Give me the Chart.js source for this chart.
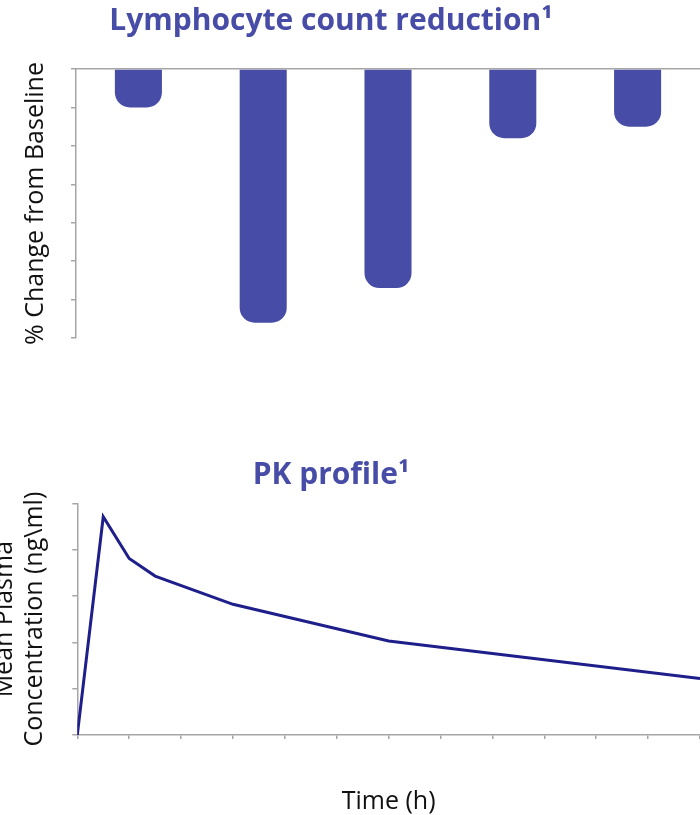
<!DOCTYPE html>
<html>
<head>
<meta charset="utf-8">
<script src="https://cdn.jsdelivr.net/npm/chart.js@4.4.1/dist/chart.umd.min.js"></script>
<style>
  html, body { margin: 0; padding: 0; background: #ffffff; width: 700px; height: 815px; overflow: hidden; position: relative; }
  .wrap { position: absolute; left: -38px; width: 738px; }
  #lymphWrap { top: 0; height: 345px; }
  #pkWrap { top: 440px; height: 390px; }
</style>
</head>
<body>
<div class="wrap" id="lymphWrap"><canvas id="lymph"></canvas></div>
<div class="wrap" id="pkWrap"><canvas id="pk"></canvas></div>
<script>
// Lymphocyte count: % change from baseline per group
const groups = ['Group 1', 'Group 2', 'Group 3', 'Group 4', 'Group 5'];
const lymphChange = [-10, -66, -57, -18, -15];
const changeTicks = [-70, -60, -50, -40, -30, -20, -10, 0];

// PK profile: mean plasma concentration over time
const timeHours = [0, 1, 2, 3, 6, 12, 24];
const plasmaConc = [0, 47.1, 38.1, 34.3, 28.2, 20.3, 12.2];
const timeTicks = [0, 2, 4, 6, 8, 10, 12, 14, 16, 18, 20, 22, 24];
const concTicks = [0, 10, 20, 30, 40, 50];

const FONT = "'Open Sans', 'Noto Sans', sans-serif";
const TITLE_COLOR = '#474DA6';
const BAR_COLOR = '#474DA6';
const LINE_COLOR = '#1F1F8C';
const AXIS_COLOR = '#A6A6A6';
const TEXT_COLOR = '#111111';

Chart.defaults.font.family = FONT;
Chart.defaults.animation = false;

function tickList(values) {
  return function (scale) {
    scale.ticks = values.map(v => ({ value: v }));
  };
}

new Chart(document.getElementById('lymph'), {
  type: 'bar',
  data: {
    labels: groups,
    datasets: [{
      data: lymphChange,
      backgroundColor: BAR_COLOR,
      borderRadius: 15,
      borderSkipped: 'start',
      barPercentage: 0.377,
      categoryPercentage: 1.0
    }]
  },
  options: {
    responsive: true,
    maintainAspectRatio: false,
    layout: { padding: { left: 0, right: 0, top: 0, bottom: 7 } },
    plugins: {
      legend: { display: false },
      tooltip: { enabled: false },
      title: {
        display: true,
        text: 'Lymphocyte count reduction¹',
        color: TITLE_COLOR,
        font: { size: 30, weight: 'bold', lineHeight: 1.2 },
        padding: { top: 3, bottom: 30 }
      }
    },
    scales: {
      x: {
        position: 'top',
        ticks: { display: false },
        grid: { display: false, drawTicks: false },
        border: { display: true, color: AXIS_COLOR, width: 1.5 }
      },
      y: {
        min: -70,
        max: 0,
        afterBuildTicks: tickList(changeTicks),
        ticks: { display: false },
        grid: { drawOnChartArea: false, drawTicks: true, tickLength: 5, color: AXIS_COLOR, lineWidth: 1.5 },
        border: { display: true, color: AXIS_COLOR, width: 1.5 },
        title: {
          display: true,
          text: '% Change from Baseline',
          color: TEXT_COLOR,
          font: { size: 25, lineHeight: 1.2 },
          padding: { top: 59, bottom: 20 }
        }
      }
    }
  }
});

new Chart(document.getElementById('pk'), {
  type: 'line',
  data: {
    datasets: [{
      data: timeHours.map((t, i) => ({ x: t, y: plasmaConc[i] })),
      borderColor: LINE_COLOR,
      borderWidth: 3,
      pointRadius: 0,
      tension: 0,
      fill: false
    }]
  },
  options: {
    responsive: true,
    maintainAspectRatio: false,
    layout: { padding: { left: 0, right: 0, top: 0, bottom: 0 } },
    plugins: {
      legend: { display: false },
      tooltip: { enabled: false },
      title: {
        display: true,
        text: 'PK profile¹',
        color: TITLE_COLOR,
        font: { size: 30, weight: 'bold', lineHeight: 1.2 },
        padding: { top: 17, bottom: 10.3 }
      }
    },
    scales: {
      x: {
        type: 'linear',
        min: 0,
        max: 24,
        afterBuildTicks: tickList(timeTicks),
        ticks: { display: false },
        grid: { drawOnChartArea: false, drawTicks: true, tickLength: 4, color: AXIS_COLOR, lineWidth: 1.5 },
        border: { display: true, color: AXIS_COLOR, width: 1.5 },
        title: {
          display: true,
          text: 'Time (h)',
          color: TEXT_COLOR,
          font: { size: 25, lineHeight: 1.2 },
          padding: { top: 48, bottom: 13 }
        }
      },
      y: {
        min: 0,
        max: 50,
        afterBuildTicks: tickList(concTicks),
        ticks: { display: false },
        grid: { drawOnChartArea: false, drawTicks: true, tickLength: 5, color: AXIS_COLOR, lineWidth: 1.5 },
        border: { display: true, color: AXIS_COLOR, width: 1.5 },
        title: {
          display: true,
          text: ['Mean Plasma', 'Concentration (ng\\ml)'],
          color: TEXT_COLOR,
          font: { size: 25, lineHeight: 1.2 },
          padding: { top: 28, bottom: 22.3 }
        }
      }
    }
  }
});
</script>
</body>
</html>
